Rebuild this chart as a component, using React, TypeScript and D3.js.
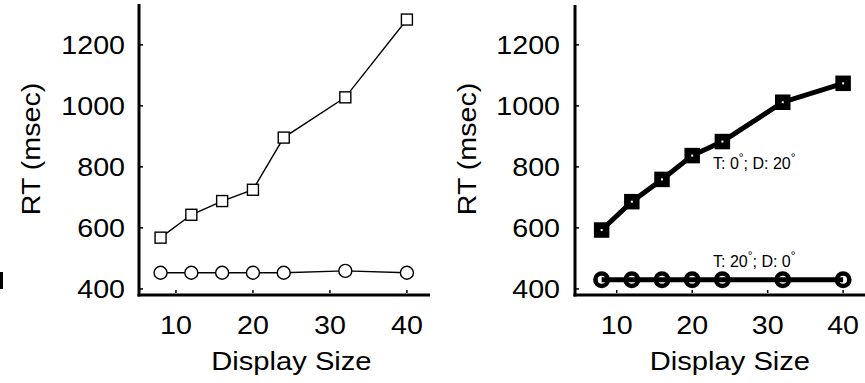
import React from 'react';
import * as d3 from 'd3';

const displaySizes = [8, 12, 16, 20, 24, 32, 40];
const leftSquare = [568, 643, 688, 725, 896, 1028, 1283];
const leftCircle = [453, 453, 453, 453, 453, 459, 453];
const rightSquare = [593, 686, 759, 837, 883, 1012, 1074];
const rightCircle = [430, 430, 430, 430, 430, 430, 430];
const xTicks = [10, 20, 30, 40];
const yTicks = [400, 600, 800, 1000, 1200];
const labelTop = 'T: 0°; D: 20°';
const labelBottom = 'T: 20°; D: 0°';

const font = '"Liberation Sans", Arial, Helvetica, sans-serif';

type PanelProps = {
  x0: number;
  x1: number;
  xDom: [number, number];
  top: number;
  squares: number[];
  circles: number[];
  bold: boolean;
  ytitleX: number;
  yLabelX: number;
};

const Panel = ({ x0, x1, xDom, top, squares, circles, bold, ytitleX, yLabelX }: PanelProps) => {
  const x = d3.scaleLinear().domain(xDom).range([x0, x1]);
  const y = d3.scaleLinear().domain([380, 1334]).range([295, 4]);
  const line = d3.line<number>()
    .x((_, i) => x(displaySizes[i]))
    .y(d => y(d));
  const lw = bold ? 5 : 1.4;
  const mw = bold ? 4.5 : 1.4;
  const half = 5.5;
  const r = bold ? 6.2 : 6.5;

  return (
    <g>
      <path d={line(squares) || ''} fill="none" stroke="#000" strokeWidth={lw} />
      <path d={line(circles) || ''} fill="none" stroke="#000" strokeWidth={lw} />
      {squares.map((v, i) => (
        <g key={'s' + i}>
          <rect x={x(displaySizes[i]) - half} y={y(v) - half} width={half * 2} height={half * 2}
            fill={bold ? '#000' : '#fff'} stroke="#000" strokeWidth={mw} />
          {bold && <rect x={x(displaySizes[i]) - 1} y={y(v) - 1} width={2} height={2} fill="#fff" />}
        </g>
      ))}
      {circles.map((v, i) => (
        <circle key={'c' + i} cx={x(displaySizes[i])} cy={y(v)} r={r}
          fill={bold ? 'none' : '#fff'} stroke="#000" strokeWidth={bold ? 4.6 : mw} />
      ))}
      {/* axes */}
      <line x1={x0} x2={x0} y1={top} y2={296.5} stroke="#000" strokeWidth={3} />
      <line x1={x0 - 1.5} x2={x1} y1={295} y2={295} stroke="#000" strokeWidth={3} />
      {xTicks.map(t => (
        <g key={'xt' + t}>
          <line x1={x(t)} x2={x(t)} y1={293} y2={290} stroke="#000" strokeWidth={1.5} />
          <text x={x(t)} y={334} textAnchor="middle" fontSize={26.5} fontFamily={font}
            transform={`translate(${x(t)},0) scale(1.08,1) translate(${-x(t)},0)`}>{t}</text>
        </g>
      ))}
      {yTicks.map(t => (
        <g key={'yt' + t}>
          <line x1={x0 + 1} x2={x0 + 4} y1={y(t)} y2={y(t)} stroke="#000" strokeWidth={1.5} />
          <text x={yLabelX} y={y(t) + 9.5} textAnchor="end" fontSize={26.5} fontFamily={font}
            transform={`translate(${yLabelX},0) scale(1.08,1) translate(${-yLabelX},0)`}>{t}</text>
        </g>
      ))}
      <text x={(x(10) + x(40)) / 2} y={370} textAnchor="middle" fontSize={26.5} fontFamily={font}
        transform={`translate(${(x(10) + x(40)) / 2},0) scale(1.1,1) translate(${-(x(10) + x(40)) / 2},0)`}>
        Display Size
      </text>
      <text transform={`translate(${ytitleX},149) rotate(-90) scale(1.08,1)`} textAnchor="middle"
        fontSize={26.5} fontFamily={font}>RT (msec)</text>
    </g>
  );
};

const Degree = ({ children }: { children: string }) => {
  const parts = children.split('°');
  return (
    <>
      {parts.map((p, i) => (
        <React.Fragment key={i}>
          <tspan dy={i > 0 ? 7 : 0}>{p}</tspan>
          {i < parts.length - 1 && <tspan fontSize={12} dy={-7}>°</tspan>}
        </React.Fragment>
      ))}
    </>
  );
};

export default function App() {
  return (
    <svg width={865} height={383} style={{ position: 'absolute', left: 0, top: 0, background: '#fff' }}>
      <rect x={0} y={272} width={3} height={17} fill="#000" />
      <Panel x0={139} x1={430} xDom={[5.2, 43]} top={4} squares={leftSquare} circles={leftCircle}
        bold={false} ytitleX={40} yLabelX={125} />
      <Panel x0={575} x1={865} xDom={[4.47, 42.9]} top={5} squares={rightSquare} circles={rightCircle}
        bold={true} ytitleX={476} yLabelX={560} />
      <text x={713} y={169} fontSize={16} fontFamily={font}><Degree>{labelTop}</Degree></text>
      <text x={713} y={267} fontSize={16} fontFamily={font}><Degree>{labelBottom}</Degree></text>
    </svg>
  );
}
